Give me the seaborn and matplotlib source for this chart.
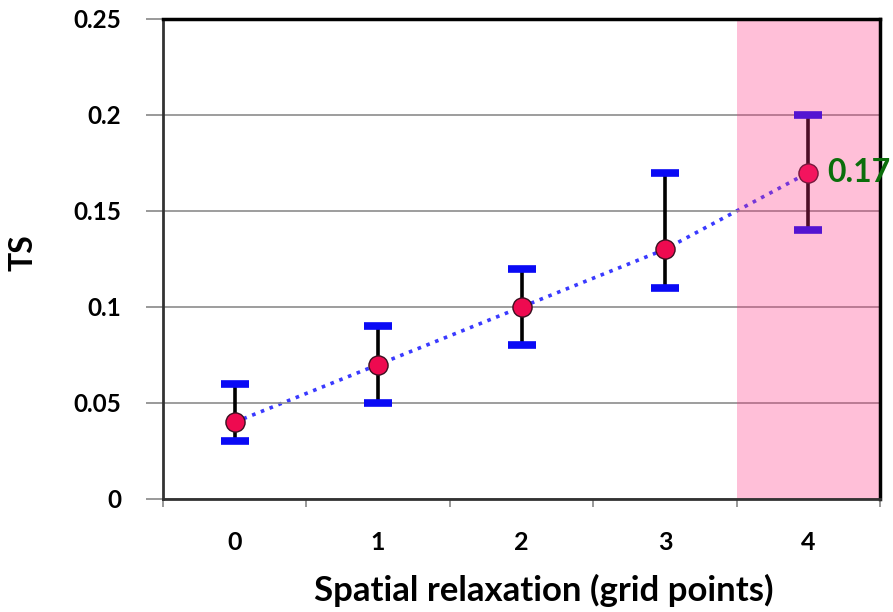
import matplotlib
matplotlib.use("Agg")
import matplotlib.pyplot as plt
import seaborn as sns
import pandas as pd
import numpy as np

categories = ["0", "1", "2", "3", "4"]
ts_values = [0.04, 0.07, 0.10, 0.13, 0.17]
upper_vals = [0.06, 0.09, 0.12, 0.17, 0.20]
lower_vals = [0.03, 0.05, 0.08, 0.11, 0.14]
y_ticks = [0, 0.05, 0.1, 0.15, 0.2, 0.25]
y_tick_labels = ["0", "0.05", "0.1", "0.15", "0.2", "0.25"]
highlight_label = "0.17"

sns.set_theme(style="white")
plt.rcParams['font.family'] = ['Lato', 'DejaVu Sans']

df = pd.DataFrame({"cat": categories, "x": np.arange(len(categories)), "ts": ts_values})

fig = plt.figure(figsize=(8.93, 6.12), dpi=100)
ax = fig.add_axes([163/893, 1-499/612, (880-163)/893, (499-19)/612])

ax.set_xlim(-0.5, len(categories) - 0.5)
ax.set_ylim(0, 0.25)

# gridlines
ax.set_yticks(y_ticks)
ax.set_yticklabels(y_tick_labels)
ax.yaxis.grid(True, color="#8c8c8c", lw=1.2)
ax.set_axisbelow(False)
for gl in ax.get_ygridlines():
    gl.set_zorder(1)

# dotted line
sns.lineplot(data=df, x="x", y="ts", ax=ax, color="#3a3aff", lw=2.6,
             linestyle=(0, (1, 1.6)), zorder=2)

# error bars
yerr = [np.array(ts_values) - np.array(lower_vals), np.array(upper_vals) - np.array(ts_values)]
eb = ax.errorbar(df["x"], df["ts"], yerr=yerr, fmt="none", ecolor="black",
                 elinewidth=2.6, capsize=10, capthick=5.5, zorder=3)
for cap in eb[1]:
    cap.set_color("#0a0af5")
    cap.set_markeredgecolor("#0a0af5")
    cap.set_markerfacecolor("#0a0af5")

# markers
sns.scatterplot(data=df, x="x", y="ts", ax=ax, s=190, color="#EE0A50",
                edgecolor="#3a1020", linewidth=1.0, zorder=4)

# pink translucent highlight over last category
ax.axvspan(len(categories) - 1.5, len(categories) - 0.5, color="#FF2D80",
           alpha=0.3, zorder=4.5, lw=0)

# label on last point
ax.text(len(categories) - 1 + 0.13, ts_values[-1], highlight_label, color="#0B6E0B",
        fontsize=23, fontweight="bold", va="center", ha="left", clip_on=False, zorder=7)

# x ticks
ax.set_xticks(df["x"])
ax.set_xticklabels(categories)
ax.set_xticks(np.arange(-0.5, len(categories)), minor=True)
ax.tick_params(axis="x", which="major", length=0, pad=23, labelsize=18, bottom=True,
               labelcolor="black")
ax.tick_params(axis="x", which="minor", length=6, width=1.2, color="#888888",
               direction="out", bottom=True)
ax.tick_params(axis="y", length=12, width=1.2, color="#888888", direction="out",
               labelsize=17.5, pad=18, left=True, labelcolor="black")
for lab in ax.get_xticklabels() + ax.get_yticklabels():
    lab.set_fontweight("bold")

ax.set_xlabel("Spatial relaxation (grid points)", fontsize=25, fontweight="bold",
              color="black")
ax.xaxis.set_label_coords((544 - 163) / 717, -(590 - 499) / 480)
ax.xaxis.label.set_va("center")
ax.set_ylabel("TS", fontsize=23, fontweight="bold", color="black")
ax.yaxis.set_label_coords(-(163 - 23) / 717, (499 - 253) / 480)
ax.yaxis.label.set_va("center")

for side in ["top", "right"]:
    ax.spines[side].set_visible(True)
    ax.spines[side].set_color("black")
    ax.spines[side].set_linewidth(2.5)
ax.spines["left"].set_color("#333333")
ax.spines["left"].set_linewidth(2)
ax.spines["bottom"].set_color("#333333")
ax.spines["bottom"].set_linewidth(2)
for sp in ax.spines.values():
    sp.set_zorder(6)

fig.savefig("out.png", dpi=100)
